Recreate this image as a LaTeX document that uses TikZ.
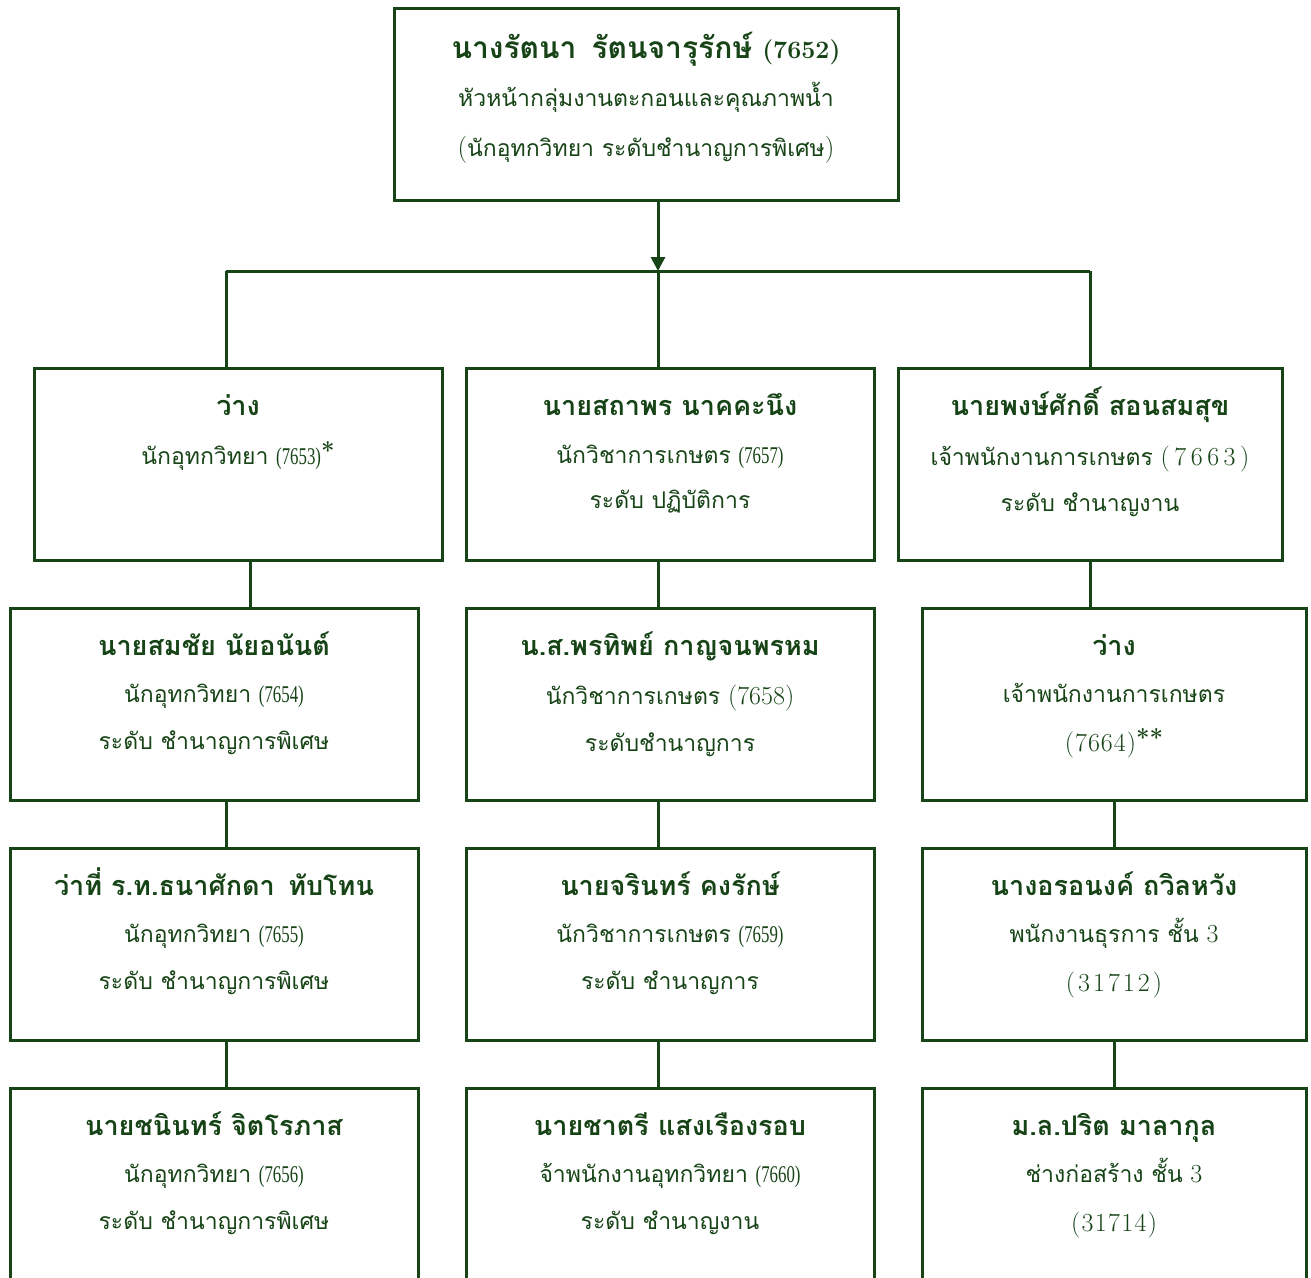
\documentclass[tikz,border=0pt]{standalone}
\usepackage{fontspec}
\newfontfamily\thai[Script=Thai]{Loma}
\newfontfamily\tnr[FakeStretch=0.7]{Liberation Serif}
\newcommand\lmN[2]{{\fontsize{#1}{#1}\rmfamily #2}}
\newcommand\K[1]{\kern#1pt\relax}
\newcommand\tn[1]{{\fontsize{24}{24}\tnr #1}}
\newcommand\myast[1]{\raisebox{5pt}{\fontsize{24}{24}\rmfamily\bfseries #1}}
\usetikzlibrary{arrows.meta,calc}
\definecolor{dg}{HTML}{174417}
\begin{document}
\begin{tikzpicture}[x=1pt,y=-1pt,
  box/.style={draw=dg, line width=3pt, minimum height=192pt, inner sep=0pt},
  wide/.style={minimum width=408pt},
  narrow/.style={minimum width=384pt},
  nm/.style={text=dg, font=\thai\bfseries\fontsize{27}{32}\selectfont, inner sep=0pt, anchor=base},
  tx/.style={text=dg, font=\thai\fontsize{23}{28}\selectfont, inner sep=0pt, anchor=base},
  link/.style={draw=dg, line width=3pt}]
\clip (0,0) rectangle (1311,1277);
\fill[white] (0,0) rectangle (1311,1277);
% boxes
\node[box, minimum width=504pt] (top) at (646,104) {};
\node[box, wide] (a1) at (238,464) {};
\node[box, wide] (a2) at (670,464) {};
\node[box, narrow] (a3) at (1090,464) {};
\node[box, wide] (b1) at (214,704) {};
\node[box, wide] (b2) at (670,704) {};
\node[box, narrow] (b3) at (1114,704) {};
\node[box, wide] (c1) at (214,944) {};
\node[box, wide] (c2) at (670,944) {};
\node[box, narrow] (c3) at (1114,944) {};
\node[box, wide] (d1) at (214,1184) {};
\node[box, wide] (d2) at (670,1184) {};
\node[box, narrow] (d3) at (1114,1184) {};
% texts
\node[nm, font=\thai\bfseries\fontsize{30}{34}\selectfont] (t1) at ($(top.north)+(0,52)$) {นางรัตนา\enspace รัตนจารุรักษ์ \lmN{25}{(7652)}};
\node[tx] (t2) at ($(top.north)+(0,100)$) {หัวหน้ากลุ่มงานตะกอนและคุณภาพน้ำ};
\node[tx] (t3) at ($(top.north)+(0,150)$) {\lmN{27}{(}นักอุทกวิทยา ระดับชำนาญการพิเศษ\lmN{27}{)}};

\node[nm] (a1n) at ($(a1.north)+(0,49)$) {ว่าง};
\node[tx] (a1t) at ($(a1.north)+(0,98)$) {นักอุทกวิทยา \tn{(7653)}\myast{*}};

\node[nm] (a2n) at ($(a2.north)+(0,49)$) {นายสถาพร นาคคะนึง};
\node[tx] (a2t) at ($(a2.north)+(0,97)$) {นักวิชาการเกษตร \tn{(7657)}};
\node[tx] (a2u) at ($(a2.north)+(0,142)$) {ระดับ ปฏิบัติการ};

\node[nm] (a3n) at ($(a3.north)+(0,49)$) {นายพงษ์ศักดิ์ สอนสมสุข};
\node[tx] (a3t) at ($(a3.north)+(0,99)$) {เจ้าพนักงานการเกษตร \lmN{26}{(\K{4.5}7\K{4.5}6\K{4.5}6\K{4.5}3\K{4.5})}};
\node[tx] (a3u) at ($(a3.north)+(0,145)$) {ระดับ ชำนาญงาน};

\node[nm] (b1n) at ($(b1.north)+(0,49)$) {นายสมชัย นัยอนันต์};
\node[tx] (b1t) at ($(b1.north)+(0,96)$) {นักอุทกวิทยา \tn{(7654)}};
\node[tx] (b1u) at ($(b1.north)+(0,143)$) {ระดับ ชำนาญการพิเศษ};

\node[nm] (b2n) at ($(b2.north)+(0,49)$) {น.ส.พรทิพย์ กาญจนพรหม};
\node[tx] (b2t) at ($(b2.north)+(0,98)$) {นักวิชาการเกษตร \lmN{26}{(7658)}};
\node[tx] (b2u) at ($(b2.north)+(0,145)$) {ระดับชำนาญการ};

\node[nm] (b3n) at ($(b3.north)+(0,49)$) {ว่าง};
\node[tx] (b3t) at ($(b3.north)+(0,96)$) {เจ้าพนักงานการเกษตร};
\node[tx] (b3u) at ($(b3.north)+(0,145)$) {\lmN{26}{(\K{1}7\K{1}6\K{1}6\K{1}4\K{1})}\myast{**}};

\node[nm] (c1n) at ($(c1.north)+(0,49)$) {ว่าที่ ร.ท.ธนาศักดา\enspace ทับโทน};
\node[tx] (c1t) at ($(c1.north)+(0,96)$) {นักอุทกวิทยา \tn{(7655)}};
\node[tx] (c1u) at ($(c1.north)+(0,143)$) {ระดับ ชำนาญการพิเศษ};

\node[nm] (c2n) at ($(c2.north)+(0,49)$) {นายจรินทร์ คงรักษ์};
\node[tx] (c2t) at ($(c2.north)+(0,96)$) {นักวิชาการเกษตร \tn{(7659)}};
\node[tx] (c2u) at ($(c2.north)+(0,143)$) {ระดับ ชำนาญการ};

\node[nm] (c3n) at ($(c3.north)+(0,49)$) {นางอรอนงค์ ถวิลหวัง};
\node[tx] (c3t) at ($(c3.north)+(0,96)$) {พนักงานธุรการ ชั้น \lmN{26}{3}};
\node[tx] (c3u) at ($(c3.north)+(0,145)$) {\lmN{26}{(\K{3}3\K{3}1\K{3}7\K{3}1\K{3}2\K{3})}};

\node[nm] (d1n) at ($(d1.north)+(0,49)$) {นายชนินทร์ จิตโรภาส};
\node[tx] (d1t) at ($(d1.north)+(0,96)$) {นักอุทกวิทยา \tn{(7656)}};
\node[tx] (d1u) at ($(d1.north)+(0,143)$) {ระดับ ชำนาญการพิเศษ};

\node[nm] (d2n) at ($(d2.north)+(0,49)$) {นายชาตรี แสงเรืองรอบ};
\node[tx] (d2t) at ($(d2.north)+(0,96)$) {จ้าพนักงานอุทกวิทยา \tn{(7660)}};
\node[tx] (d2u) at ($(d2.north)+(0,143)$) {ระดับ ชำนาญงาน};

\node[nm] (d3n) at ($(d3.north)+(0,49)$) {ม.ล.ปริต มาลากุล};
\node[tx] (d3t) at ($(d3.north)+(0,96)$) {ช่างก่อสร้าง ชั้น \lmN{26}{3}};
\node[tx] (d3u) at ($(d3.north)+(0,145)$) {\lmN{26}{(\K{1.3}3\K{1.3}1\K{1.3}7\K{1.3}1\K{1.3}4\K{1.3})}};

% connector columns
\coordinate (bus) at (658,271);
\coordinate (busL) at (226,271);
\coordinate (busR) at (1090,271);
\coordinate (xA) at (250,0);
\coordinate (xB) at (226,0);
\coordinate (xM) at (658,0);
\coordinate (xR) at (1114,0);
\draw[link, -{Triangle[length=14pt,width=14pt]}] (top.south -| bus) -- (bus);
\draw[link] (busL) -- (busR);
\draw[link] (busL) -- (busL |- a1.north);
\draw[link] (bus) -- (bus |- a2.north);
\draw[link] (busR) -- (busR |- a3.north);
\draw[link] (a1.south -| xA) -- (b1.north -| xA);
\draw[link] (a2.south -| xM) -- (b2.north -| xM);
\draw[link] (a3.south -| busR) -- (b3.north -| busR);
\draw[link] (b1.south -| xB) -- (c1.north -| xB);
\draw[link] (b2.south -| xM) -- (c2.north -| xM);
\draw[link] (b3.south -| xR) -- (c3.north -| xR);
\draw[link] (c1.south -| xB) -- (d1.north -| xB);
\draw[link] (c2.south -| xM) -- (d2.north -| xM);
\draw[link] (c3.south -| xR) -- (d3.north -| xR);
\end{tikzpicture}
\end{document}
